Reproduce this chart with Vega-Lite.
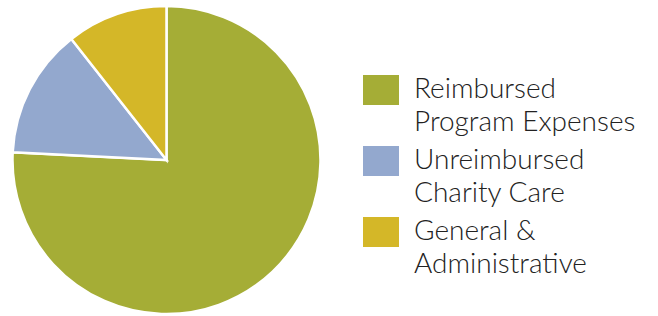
{
  "$schema": "https://vega.github.io/schema/vega-lite/v6.json",
  "width": 333,
  "height": 320,
  "padding": 0,
  "background": "white",
  "data": {
    "values": [
      {"category": "Reimbursed Program Expenses", "value": 75.8, "order": 1},
      {"category": "Unreimbursed Charity Care", "value": 13.6, "order": 2},
      {"category": "General & Administrative", "value": 10.6, "order": 3}
    ]
  },
  "mark": {"type": "arc", "outerRadius": 154, "stroke": "white", "strokeWidth": 2.5},
  "encoding": {
    "theta": {"field": "value", "type": "quantitative", "stack": true},
    "order": {"field": "order", "type": "quantitative"},
    "color": {
      "field": "category",
      "type": "nominal",
      "sort": ["Reimbursed Program Expenses", "Unreimbursed Charity Care", "General & Administrative"],
      "scale": {
        "domain": ["Reimbursed Program Expenses", "Unreimbursed Charity Care", "General & Administrative"],
        "range": ["#A5AD36", "#93A8CE", "#D4B728"]
      },
      "legend": {
        "title": null,
        "orient": "none",
        "legendX": 366,
        "legendY": 75,
        "symbolType": "M-1.2,-1L1.2,-1L1.2,1L-1.2,1Z",
        "symbolSize": 900,
        "symbolStrokeWidth": 0,
        "symbolOpacity": 1,
        "labelFont": "Lato",
        "labelFontSize": 28,
        "labelFontWeight": 300,
        "labelColor": "#222222",
        "labelOffset": 18,
        "labelLimit": 400,
        "rowPadding": 9,
        "labelExpr": "datum.label == 'Reimbursed Program Expenses' ? ['Reimbursed', 'Program Expenses'] : datum.label == 'Unreimbursed Charity Care' ? ['Unreimbursed', 'Charity Care'] : ['General &', 'Administrative']",
        "encode": {
          "labels": {
            "enter": {"lineHeight": {"value": 33}},
            "update": {"lineHeight": {"value": 33}, "baseline": {"value": "top"}, "dy": {"value": -17}}
          }
        }
      }
    }
  },
  "config": {"view": {"stroke": null}, "style": {"guide-label": {"lineHeight": 33}}}
}
